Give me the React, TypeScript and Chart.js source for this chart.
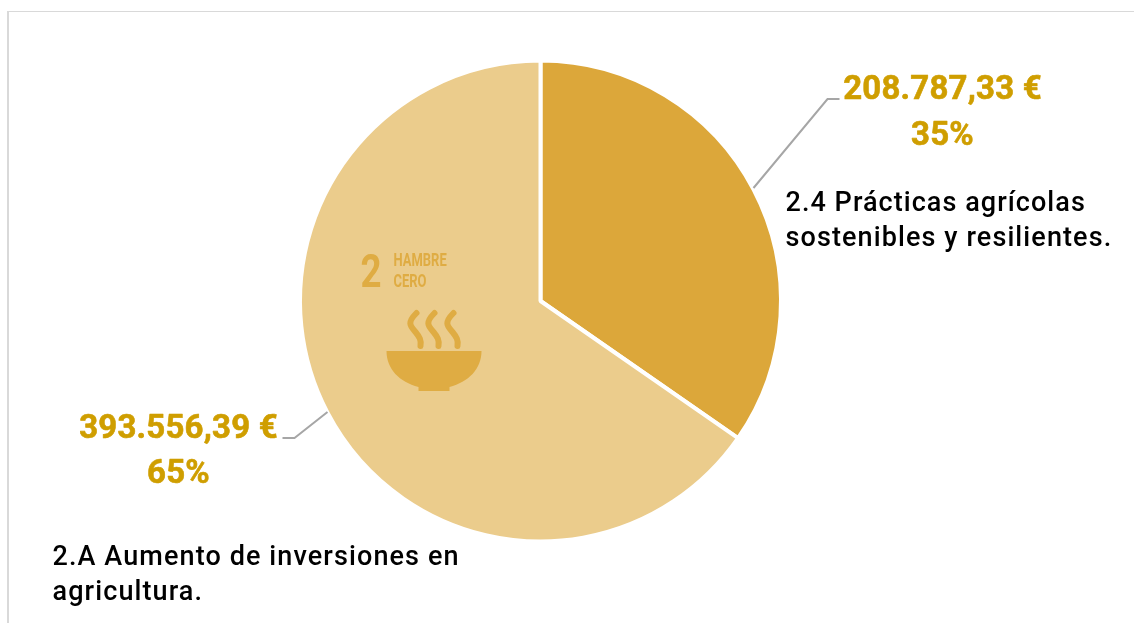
import React, { useEffect, useRef } from "react";
import { Chart, registerables } from "chart.js";

Chart.register(...registerables);

const categories = ["2.4 Prácticas agrícolas sostenibles y resilientes.", "2.A Aumento de inversiones en agricultura."];
const values = [208787.33, 393556.39];
const sliceColors = ["#DCA73A", "#EBCC8C"];
const amountLabels = ["208.787,33 €", "393.556,39 €"];
const percentLabels = ["35%", "65%"];
const nameLinesRight = ["2.4 Prácticas agrícolas", "sostenibles y resilientes."];
const nameLinesLeft = ["2.A Aumento de inversiones en", "agricultura."];
const goalNumber = "2";
const goalLines = ["HAMBRE", "CERO"];

const GOLD = "#CF9E00";
const ICON = "#DFAC43";
const LEADER = "#A6A6A6";
const LABEL_FONT = "Roboto, 'Noto Sans', sans-serif";

const annotations = {
  id: "annotations",
  afterDatasetsDraw(chart: any) {
    const { ctx } = chart;
    const arc = chart.getDatasetMeta(0).data[0];
    const cx = arc.x;
    const cy = arc.y;
    const text = (s: string, x: number, y: number, font: string, color: string, align: CanvasTextAlign, spacing = "0px", heavy = 0) => {
      ctx.font = font;
      ctx.fillStyle = color;
      ctx.textAlign = align;
      ctx.textBaseline = "alphabetic";
      (ctx as any).letterSpacing = spacing;
      ctx.fillText(s, x, y);
      if (heavy > 0) {
        ctx.strokeStyle = color;
        ctx.lineWidth = heavy;
        ctx.lineJoin = "round";
        ctx.strokeText(s, x, y);
      }
      (ctx as any).letterSpacing = "0px";
    };
    const condensed = (s: string, x: number, y: number, font: string, sx: number) => {
      ctx.save();
      ctx.translate(x, y);
      ctx.scale(sx, 1);
      text(s, 0, 0, font, ICON, "left");
      ctx.restore();
    };
    ctx.save();

    // leader lines
    ctx.strokeStyle = LEADER;
    ctx.lineWidth = 2;
    ctx.beginPath();
    ctx.moveTo(cx + 213, cy - 113);
    ctx.lineTo(cx + 287, cy - 202);
    ctx.lineTo(cx + 299, cy - 202);
    ctx.stroke();
    ctx.beginPath();
    ctx.moveTo(cx - 213, cy + 111);
    ctx.lineTo(cx - 246, cy + 137);
    ctx.lineTo(cx - 258, cy + 137);
    ctx.stroke();

    // value labels
    const amountFont = `bold 33px ${LABEL_FONT}`;
    text(amountLabels[0], cx + 402, cy - 202, amountFont, GOLD, "center", "0.2px", 0.6);
    text(percentLabels[0], cx + 402, cy - 156, amountFont, GOLD, "center", "0.2px", 0.6);
    text(amountLabels[1], cx - 362, cy + 137, amountFont, GOLD, "center", "0.2px", 0.6);
    text(percentLabels[1], cx - 362, cy + 182, amountFont, GOLD, "center", "0.2px", 0.6);

    // category labels
    const nameFont = `500 27px ${LABEL_FONT}`;
    text(nameLinesRight[0], cx + 245, cy - 90, nameFont, "#000000", "left", "1.05px");
    text(nameLinesRight[1], cx + 245, cy - 55, nameFont, "#000000", "left", "1.1px");
    text(nameLinesLeft[0], cx - 488, cy + 264, nameFont, "#000000", "left", "1.1px");
    text(nameLinesLeft[1], cx - 488, cy + 299, nameFont, "#000000", "left", "1.1px");

    // goal badge
    condensed(goalNumber, cx - 180, cy - 14, `bold 47px ${LABEL_FONT}`, 0.78);
    const goalFont = `bold 18px ${LABEL_FONT}`;
    condensed(goalLines[0], cx - 147, cy - 35, goalFont, 0.72);
    condensed(goalLines[1], cx - 147, cy - 14, goalFont, 0.72);

    // bowl
    const bx = cx - 107;
    ctx.fillStyle = ICON;
    ctx.beginPath();
    ctx.moveTo(cx - 154, cy + 50);
    ctx.lineTo(cx - 59, cy + 50);
    ctx.bezierCurveTo(cx - 59, cy + 68, cx - 72, cy + 81, cx - 91, cy + 86);
    ctx.lineTo(cx - 91, cy + 90);
    ctx.lineTo(cx - 122, cy + 90);
    ctx.lineTo(cx - 122, cy + 86);
    ctx.bezierCurveTo(cx - 141, cy + 81, cx - 154, cy + 68, cx - 154, cy + 50);
    ctx.closePath();
    ctx.fill();

    // steam
    ctx.strokeStyle = ICON;
    ctx.lineWidth = 6;
    ctx.lineCap = "round";
    for (const dx of [-18, 0, 19]) {
      ctx.beginPath();
      ctx.moveTo(bx + dx + 1, cy + 12);
      ctx.bezierCurveTo(bx + dx - 9, cy + 22, bx + dx - 5, cy + 25, bx + dx, cy + 31);
      ctx.bezierCurveTo(bx + dx + 4, cy + 36, bx + dx + 6, cy + 39, bx + dx + 5, cy + 45);
      ctx.stroke();
    }
    ctx.restore();
  },
};

export default function App() {
  const ref = useRef<HTMLCanvasElement>(null);
  useEffect(() => {
    document.body.style.margin = "0";
    document.body.style.overflow = "hidden";
    const chart = new Chart(ref.current!, {
      type: "pie",
      data: {
        labels: categories,
        datasets: [
          {
            data: values,
            backgroundColor: sliceColors,
            borderColor: "#FFFFFF",
            borderWidth: 4,
          },
        ],
      },
      options: {
        animation: false,
        responsive: false,
        radius: 240.5,
        layout: { padding: { left: 0, right: 53, top: 0, bottom: 21 } },
        plugins: { legend: { display: false }, tooltip: { enabled: false }, title: { display: false } },
      } as any,
      plugins: [annotations],
    });
    return () => chart.destroy();
  }, []);
  return (
    <div style={{ position: "relative", width: 1134, height: 623, overflow: "hidden", background: "#fff" }}>
      <div
        style={{
          position: "absolute",
          left: 7,
          top: 11,
          width: 1127,
          height: 612,
          boxSizing: "border-box",
          borderLeft: "2px solid #D9D9D9",
          borderTop: "1px solid #D9D9D9",
        }}
      />
      <canvas ref={ref} width={1134} height={623} style={{ position: "absolute", left: 0, top: 0, width: 1134, height: 623 }} />
    </div>
  );
}
